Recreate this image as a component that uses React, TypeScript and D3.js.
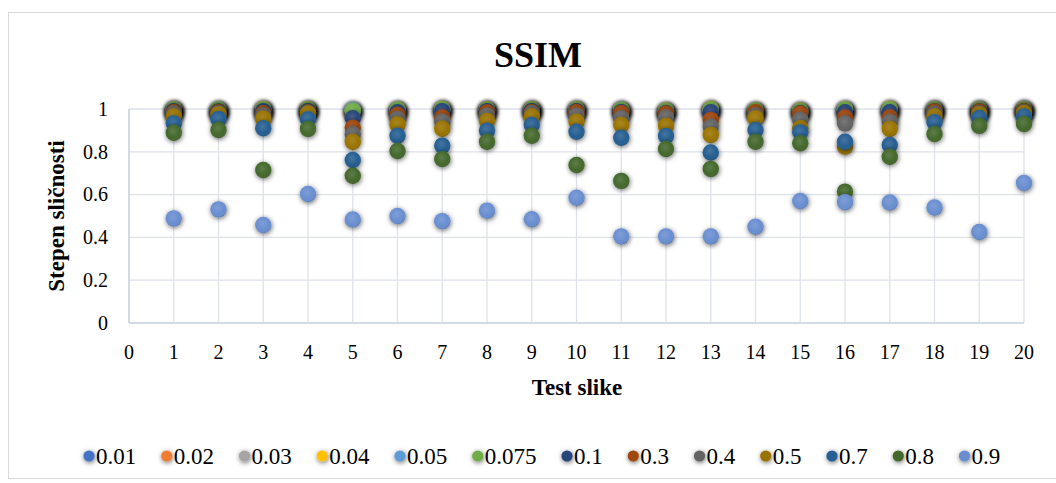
import React from "react";
import * as d3 from "d3";

const xTicks = d3.range(0, 21);
const yTicks = [0, 0.2, 0.4, 0.6, 0.8, 1];
const testImages = d3.range(1, 21);

const seriesNames = ["0.01", "0.02", "0.03", "0.04", "0.05", "0.075", "0.1", "0.3", "0.4", "0.5", "0.7", "0.8", "0.9"];
const seriesColors = ["#4472C4", "#ED7D31", "#A5A5A5", "#FFC000", "#5B9BD5", "#70AD47", "#264478", "#9E480E", "#636363", "#997300", "#255E91", "#43682B", "#698ED0"];

const s001 = [0.998, 0.995, 0.998, 0.997, 0.99, 0.995, 0.998, 0.997, 0.997, 0.997, 0.995, 0.99, 0.997, 0.99, 0.99, 0.995, 0.997, 0.998, 0.998, 0.998];
const s002 = [0.997, 0.994, 0.997, 0.996, 0.993, 0.994, 0.997, 0.996, 0.996, 0.996, 0.994, 0.99, 0.996, 0.99, 0.99, 0.996, 0.998, 0.997, 0.997, 0.998];
const s003 = [0.995, 0.993, 0.996, 0.995, 0.99, 0.993, 0.996, 0.995, 0.995, 0.995, 0.993, 0.988, 0.995, 0.988, 0.988, 0.994, 0.996, 0.996, 0.996, 0.997];
const s004 = [0.998, 0.996, 1.0, 0.998, 0.994, 0.997, 1.0, 0.998, 0.998, 0.998, 0.996, 0.992, 1.0, 0.992, 0.992, 0.998, 1.0, 0.998, 0.998, 0.999];
const s005 = [0.996, 0.995, 0.997, 0.996, 0.996, 0.995, 0.998, 0.996, 0.996, 0.996, 0.995, 0.99, 0.997, 0.99, 0.99, 0.996, 0.997, 0.997, 0.997, 0.998];
const s0075 = [0.997, 0.998, 0.998, 0.997, 0.992, 0.996, 0.999, 0.997, 0.998, 0.997, 0.996, 0.991, 0.998, 0.993, 0.991, 0.997, 0.998, 0.998, 0.997, 0.998];
const s01 = [0.99, 0.988, 0.99, 0.99, 0.957, 0.985, 0.99, 0.99, 0.99, 0.99, 0.985, 0.98, 0.985, 0.98, 0.98, 0.985, 0.985, 0.99, 0.99, 0.99];
const s03 = [0.985, 0.985, 0.98, 0.985, 0.913, 0.972, 0.96, 0.984, 0.985, 0.985, 0.98, 0.978, 0.949, 0.985, 0.978, 0.96, 0.96, 0.988, 0.988, 0.99];
const s04 = [0.978, 0.98, 0.97, 0.983, 0.882, 0.953, 0.941, 0.969, 0.98, 0.969, 0.957, 0.96, 0.917, 0.97, 0.949, 0.933, 0.94, 0.978, 0.98, 0.985];
const s05 = [0.965, 0.975, 0.955, 0.978, 0.847, 0.928, 0.908, 0.944, 0.965, 0.941, 0.925, 0.922, 0.879, 0.957, 0.91, 0.824, 0.907, 0.965, 0.975, 0.98];
const s07 = [0.933, 0.953, 0.91, 0.952, 0.762, 0.875, 0.829, 0.899, 0.925, 0.894, 0.866, 0.874, 0.797, 0.902, 0.891, 0.847, 0.832, 0.938, 0.958, 0.965];
const s08 = [0.889, 0.902, 0.715, 0.907, 0.688, 0.804, 0.766, 0.847, 0.875, 0.738, 0.664, 0.813, 0.72, 0.847, 0.84, 0.614, 0.777, 0.883, 0.921, 0.93];
const s09 = [0.489, 0.531, 0.458, 0.603, 0.484, 0.5, 0.476, 0.525, 0.485, 0.585, 0.405, 0.405, 0.405, 0.45, 0.57, 0.565, 0.563, 0.54, 0.425, 0.655];

const seriesValues = [s001, s002, s003, s004, s005, s0075, s01, s03, s04, s05, s07, s08, s09];

const FONT = "'Liberation Serif', 'Times New Roman', serif";

export default function App() {
  const W = 1056;
  const H = 483;
  const left = 129;
  const right = 1024;
  const top = 109;
  const bottom = 323;

  const x = d3.scaleLinear().domain([0, 20]).range([left, right]);
  const y = d3.scaleLinear().domain([0, 1]).range([bottom, top]);

  // legend layout
  const legendFont = 23;
  const charW = (s: string) => s.split("").reduce((a, c) => a + (c === "." ? 0.25 : 0.5) * legendFont, 0);
  const legendItems: { name: string; color: string; cx: number }[] = [];
  let cx = 89;
  seriesNames.forEach((n, i) => {
    legendItems.push({ name: n, color: seriesColors[i], cx });
    cx += charW(n) + 37.5;
  });

  return (
    <svg width={W} height={H} style={{ position: "absolute", left: 0, top: 0, background: "#fff" }}>
      <defs>
        <filter id="shadow" x="-80%" y="-80%" width="260%" height="260%">
          <feDropShadow dx="0.6" dy="1.2" stdDeviation="2.4" floodColor="#000" floodOpacity="0.6" />
        </filter>
        <radialGradient id="shade" cx="45%" cy="40%" r="60%">
          <stop offset="0%" stopColor="#fff" stopOpacity={0.14} />
          <stop offset="70%" stopColor="#fff" stopOpacity={0} />
          <stop offset="100%" stopColor="#000" stopOpacity={0.15} />
        </radialGradient>
      </defs>
      <rect x={0} y={0} width={W} height={H} fill="#fff" />
      <rect x={8.5} y={12.5} width={1100} height={466} fill="none" stroke="#d9d9d9" strokeWidth={1} />

      <text x={538} y={67} textAnchor="middle" fontFamily={FONT} fontWeight="bold" fontSize={36} fill="#000">
        SSIM
      </text>

      {/* grid */}
      <g>
        {yTicks.map((t) => (
          <line key={"gy" + t} x1={left} x2={right} y1={y(t)} y2={y(t)} stroke="#dde2ea" strokeWidth={1.3} />
        ))}
        {xTicks.map((t) => (
          <line key={"gx" + t} x1={x(t)} x2={x(t)} y1={top} y2={bottom} stroke="#dde2ea" strokeWidth={1.3} />
        ))}
        <line x1={left} x2={left} y1={top} y2={bottom} stroke="#cdd5e2" strokeWidth={1.6} />
        <line x1={left} x2={right} y1={bottom} y2={bottom} stroke="#cdd5e2" strokeWidth={1.6} />
      </g>

      {/* tick labels */}
      {yTicks.map((t) => (
        <text key={"ly" + t} x={108} y={y(t) + 6.7} textAnchor="end" fontFamily={FONT} fontSize={20} fill="#000">
          {d3.format("~g")(t)}
        </text>
      ))}
      {xTicks.map((t) => (
        <text key={"lx" + t} x={x(t)} y={359} textAnchor="middle" fontFamily={FONT} fontSize={20} fill="#000">
          {t}
        </text>
      ))}

      <text x={577} y={395} textAnchor="middle" fontFamily={FONT} fontWeight="bold" fontSize={23} fill="#000">
        Test slike
      </text>
      <text
        transform={`translate(64, 216) rotate(-90)`}
        textAnchor="middle"
        fontFamily={FONT}
        fontWeight="bold"
        fontSize={23}
        fill="#000"
      >
        Stepen sličnosti
      </text>

      {/* markers */}
      <g>
        {seriesValues.map((vals, si) => (
          <g key={"s" + si} filter="url(#shadow)">
            {vals.map((v, i) => (
              <g key={i}>
                <circle cx={x(testImages[i])} cy={y(v)} r={8.2} fill={seriesColors[si]} />
                <circle cx={x(testImages[i])} cy={y(v)} r={8.2} fill="url(#shade)" />
              </g>
            ))}
          </g>
        ))}
      </g>

      {/* legend */}
      <g>
        {legendItems.map((it) => (
          <g key={it.name}>
            <circle cx={it.cx} cy={456} r={5.6} fill={it.color} filter="url(#shadow)" />
            <text x={it.cx + 7} y={464} fontFamily={FONT} fontSize={legendFont} fill="#000">
              {it.name}
            </text>
          </g>
        ))}
      </g>
    </svg>
  );
}
